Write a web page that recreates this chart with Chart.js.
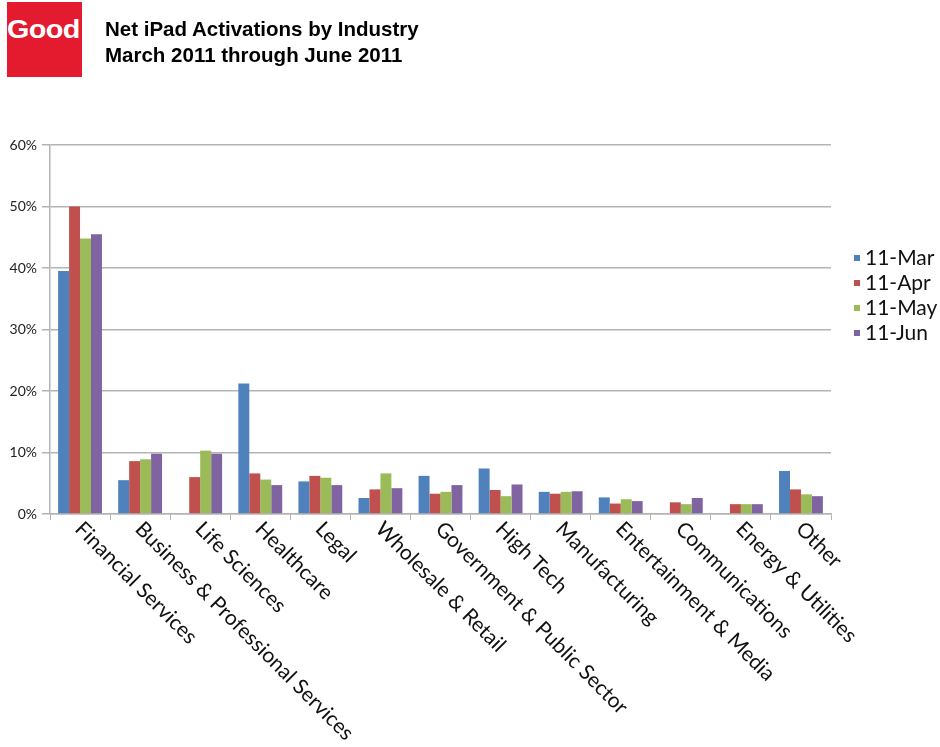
<!DOCTYPE html>
<html>
<head>
<meta charset="utf-8">
<script src="https://cdn.jsdelivr.net/npm/chart.js@4/dist/chart.umd.min.js"></script>
<style>
  html, body { margin: 0; padding: 0; background: #fff; }
  #wrap { position: relative; width: 940px; height: 747px; overflow: hidden; }
  #chart { position: absolute; left: 0; top: 0; }
  .logo { position: absolute; left: 7px; top: 2px; width: 75px; height: 75px; background: #e41b2e; overflow: hidden; }
  .logo span { position: absolute; left: 0; top: 13px; color: #fff; font: bold 25px "Liberation Sans", Arial, sans-serif;
               letter-spacing: -0.5px; transform: scaleX(1.15); transform-origin: left top; }
  .title { position: absolute; left: 105px; top: 16px; font: bold 20.5px "Liberation Sans", Arial, sans-serif; line-height: 26px; color: #000; }
  #legend { position: absolute; left: 854px; top: 244px; font: 21px Lato, "Open Sans", sans-serif; color: #111; }
  #legend div { height: 25px; line-height: 25px; white-space: nowrap; }
  #legend i { display: inline-block; width: 6px; height: 6px; margin-right: 5px; vertical-align: 4px; }
</style>
</head>
<body>
<div id="wrap">
  <canvas id="chart" width="940" height="747"></canvas>
  <div class="logo"><span>Good</span></div>
  <div class="title">Net iPad Activations by Industry<br>March 2011 through June 2011</div>
  <div id="legend"></div>
</div>
<script>
// categories and monthly share of net activations (%)
const industries = [
  'Financial Services', 'Business & Professional Services', 'Life Sciences', 'Healthcare',
  'Legal', 'Wholesale & Retail', 'Government & Public Sector', 'High Tech', 'Manufacturing',
  'Entertainment & Media', 'Communications', 'Energy & Utilities', 'Other'
];
const months = ['11-Mar', '11-Apr', '11-May', '11-Jun'];
const mar = [39.5, 5.5, 0, 21.2, 5.3, 2.6, 6.2, 7.4, 3.6, 2.7, 0, 0, 7.0];
const apr = [50.0, 8.6, 6.0, 6.6, 6.2, 4.0, 3.3, 3.9, 3.3, 1.7, 1.9, 1.6, 4.0];
const may = [44.8, 8.9, 10.3, 5.6, 5.9, 6.6, 3.6, 2.9, 3.6, 2.4, 1.6, 1.6, 3.2];
const jun = [45.5, 9.8, 9.8, 4.7, 4.7, 4.2, 4.7, 4.8, 3.7, 2.1, 2.6, 1.6, 2.9];
const yTicks = [0, 10, 20, 30, 40, 50, 60];

const colors = ['#4f81bd', '#c0504d', '#9bbb59', '#8064a2'];
const series = [mar, apr, may, jun];
const GRID = '#b4b4b4';

// x labels: rotated 45deg clockwise, text starting at the tick
const slantLabels = {
  id: 'slantLabels',
  afterDraw(chart) {
    const sx = chart.scales.x;
    const ctx = chart.ctx;
    ctx.save();
    ctx.font = '21px Lato, "Open Sans", sans-serif';
    ctx.fillStyle = '#111';
    ctx.textAlign = 'left';
    ctx.textBaseline = 'top';
    industries.forEach((lab, i) => {
      const x = sx.getPixelForValue(i);
      ctx.save();
      ctx.translate(x + 6, sx.top + 4);
      ctx.rotate(Math.PI / 4);
      ctx.fillText(lab, 0, 0);
      ctx.restore();
    });
    ctx.restore();
  }
};

new Chart(document.getElementById('chart'), {
  type: 'bar',
  data: {
    labels: industries,
    datasets: months.map((m, k) => ({
      label: m,
      data: series[k],
      backgroundColor: colors[k],
      borderWidth: 0,
      barPercentage: 1.0,
      categoryPercentage: 0.73,
    })),
  },
  options: {
    responsive: false,
    animation: false,
    layout: { padding: { top: 145, right: 109, left: 0, bottom: 0 } },
    plugins: { legend: { display: false }, tooltip: { enabled: false } },
    scales: {
      x: {
        ticks: { display: false },
        grid: { offset: true, drawOnChartArea: false, tickLength: 6, color: GRID, lineWidth: 1 },
        border: { color: GRID, width: 1.5 },
        afterFit: (s) => { s.height = 233; },
      },
      y: {
        min: yTicks[0],
        max: yTicks[yTicks.length - 1],
        afterBuildTicks: (s) => { s.ticks = yTicks.map((v) => ({ value: v })); },
        ticks: {
          callback: (v) => v + '%',
          font: { family: 'Lato, "Open Sans", sans-serif', size: 14 },
          color: '#222',
          padding: 5,
        },
        grid: { color: GRID, lineWidth: 1.5, tickLength: 8 },
        border: { color: GRID, width: 1.5 },
        afterFit: (s) => { s.width = 50; },
      },
    },
  },
  plugins: [slantLabels],
});

// legend
const legend = document.getElementById('legend');
months.forEach((m, k) => {
  const row = document.createElement('div');
  row.innerHTML = '<i style="background:' + colors[k] + '"></i>' + m;
  legend.appendChild(row);
});
</script>
</body>
</html>
